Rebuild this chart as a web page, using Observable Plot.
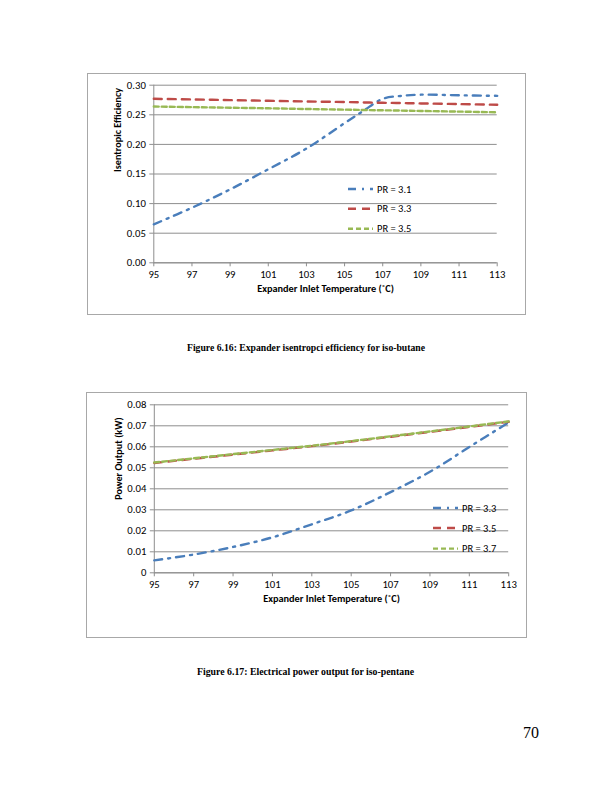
<!DOCTYPE html>
<html>
<head>
<meta charset="utf-8">
<script src="https://cdn.jsdelivr.net/npm/d3@7"></script>
<script src="https://cdn.jsdelivr.net/npm/@observablehq/plot@0.6"></script>
<style>
  html, body { margin: 0; padding: 0; background: #fff; }
  #page { position: relative; width: 612px; height: 792px; background: #fff; overflow: hidden; }
  .box { position: absolute; box-sizing: border-box; border: 1px solid #a8a8a8; }
  svg { overflow: visible; }
</style>
</head>
<body>
<div id="page"></div>
<script>
// ---------- DATA ----------
// Figure 6.16 : isentropic efficiency (iso-butane)
const temps1 = [95, 97, 99, 101, 103, 105, 106, 107, 108, 109, 111, 113];
const eff_pr31 = [0.065, 0.093, 0.124, 0.158, 0.193, 0.236, 0.257, 0.277, 0.282, 0.284, 0.283, 0.282];
const eff_pr33 = [0.277, 0.276, 0.2748, 0.2737, 0.2726, 0.2715, 0.2709, 0.2703, 0.2698, 0.2692, 0.2681, 0.267];
const eff_pr35 = [0.264, 0.263, 0.262, 0.261, 0.2598, 0.2587, 0.2581, 0.2576, 0.2571, 0.2565, 0.2554, 0.2543];
const labels1 = ["PR = 3.1", "PR = 3.3", "PR = 3.5"];
const yTicks1 = [0, 0.05, 0.10, 0.15, 0.20, 0.25, 0.30];

// Figure 6.17 : electrical power output (iso-pentane)
const temps2 = [95, 97, 99, 101, 103, 105, 107, 109, 111, 113];
const pow_pr33 = [0.0059, 0.0087, 0.0123, 0.0169, 0.0231, 0.0297, 0.0384, 0.0481, 0.0599, 0.0716];
const pow_pr35 = [0.0523, 0.0543, 0.0563, 0.0583, 0.0603, 0.0625, 0.0648, 0.0671, 0.0695, 0.0719];
const pow_pr37 = [0.0525, 0.0545, 0.0565, 0.0585, 0.0605, 0.0627, 0.0650, 0.0673, 0.0697, 0.0721];
const labels2 = ["PR = 3.3", "PR = 3.5", "PR = 3.7"];
const yTicks2 = [0, 0.01, 0.02, 0.03, 0.04, 0.05, 0.06, 0.07, 0.08];

const xTicks = [95, 97, 99, 101, 103, 105, 107, 109, 111, 113];
const xTitle = "Expander Inlet Temperature (˚C)";

// series styles
const colors = ["#4a7ebb", "#be4b48", "#98b954"];
const dashes = ["8,6,2,6", "8,6", "5,3"];

const FONT = "Carlito, Lato, sans-serif";
const GRID = "#8e8e8e";

const page = document.getElementById("page");

function place(el, left, top) {
  el.style.position = "absolute";
  el.style.left = left + "px";
  el.style.top = top + "px";
  page.appendChild(el);
}

function box(left, top, w, h) {
  const d = document.createElement("div");
  d.className = "box";
  d.style.left = left + "px"; d.style.top = top + "px";
  d.style.width = w + "px"; d.style.height = h + "px";
  page.appendChild(d);
}

function chart(o) {
  const rows = [];
  o.series.forEach((vals, i) => vals.forEach((v, j) => rows.push({t: o.temps[j], v, s: i})));
  const lineMarks = o.series.map((_, i) =>
    Plot.line(rows.filter(r => r.s === i), {
      x: "t", y: "v", stroke: colors[i], strokeWidth: 2.4,
      strokeDasharray: dashes[i], curve: "catmull-rom"
    }));
  return Plot.plot({
    width: o.width, height: o.height,
    marginLeft: o.ml, marginRight: o.mr, marginTop: o.mt, marginBottom: o.mb,
    style: {fontFamily: FONT, fontSize: "10.7px", color: "#000", background: "transparent", overflow: "visible"},
    x: {domain: [95, 113]},
    y: {domain: o.yDomain},
    marks: [
      Plot.gridY(o.yTicks, {stroke: GRID, strokeOpacity: 1, strokeWidth: 1}),
      Plot.ruleX([95], {stroke: GRID, strokeWidth: 1}),
      Plot.ruleY([0], {stroke: GRID, strokeWidth: 1}),
      Plot.axisX({ticks: xTicks, tickSize: 4, tickPadding: 4, stroke: GRID, fill: "#000", label: null, tickFormat: d => String(d)}),
      Plot.axisY({ticks: o.yTicks, tickSize: 4, tickPadding: 4, stroke: GRID, fill: "#000", label: null, tickFormat: o.fmt}),
      ...lineMarks,
      Plot.text([xTitle], {frameAnchor: "bottom", dy: 29, fontWeight: "bold", fontSize: 10.3, fill: "#000"}),
      Plot.text([o.yTitle], {frameAnchor: "left", rotate: -90, dx: -36, dy: o.yTitleDy, fontWeight: "bold", fontSize: 10.2, fill: "#000"})
    ]
  });
}

function legend(labels, left, tops) {
  const ns = "http://www.w3.org/2000/svg";
  const svg = document.createElementNS(ns, "svg");
  svg.setAttribute("width", 70); svg.setAttribute("height", 60);
  const y0 = tops[0] - 6;
  labels.forEach((lab, i) => {
    const y = tops[i] - y0;
    const l = document.createElementNS(ns, "line");
    l.setAttribute("x1", 0); l.setAttribute("x2", 25);
    l.setAttribute("y1", y); l.setAttribute("y2", y);
    l.setAttribute("stroke", colors[i]); l.setAttribute("stroke-width", 2.4);
    l.setAttribute("stroke-dasharray", dashes[i]);
    svg.appendChild(l);
    const t = document.createElementNS(ns, "text");
    t.setAttribute("x", 29); t.setAttribute("y", y + 3.7);
    t.setAttribute("font-family", FONT); t.setAttribute("font-size", 10.5);
    t.textContent = lab;
    svg.appendChild(t);
  });
  place(svg, left, y0);
}

function caption(text, cx, cy, w) {
  const ns = "http://www.w3.org/2000/svg";
  const svg = document.createElementNS(ns, "svg");
  svg.setAttribute("width", w + 10); svg.setAttribute("height", 16);
  const t = document.createElementNS(ns, "text");
  t.setAttribute("x", 5); t.setAttribute("y", 11.5);
  t.setAttribute("font-family", "Liberation Serif, DejaVu Serif, serif");
  t.setAttribute("font-weight", "bold");
  t.setAttribute("font-size", 10.5);
  t.setAttribute("textLength", w);
  t.setAttribute("lengthAdjust", "spacingAndGlyphs");
  t.textContent = text;
  svg.appendChild(t);
  place(svg, cx - w / 2 - 5, cy - 8);
}

// ---------- Chart 1 ----------
box(86.5, 72.5, 439.5, 242);
const c1 = chart({
  width: 438, height: 241, ml: 66.3, mr: 28.3, mt: 11.7, mb: 51.7,
  temps: temps1, series: [eff_pr31, eff_pr33, eff_pr35],
  yDomain: [0, 0.30], yTicks: yTicks1, fmt: d => d.toFixed(2),
  yTitle: "Isentropic Efficiency", yTitleDy: -2
});
place(c1, 87, 73);
legend(labels1, 348, [189, 208.7, 228.7]);
caption("Figure 6.16: Expander isentropci efficiency for iso-butane", 306, 346.7, 238);

// ---------- Chart 2 ----------
box(86, 391.5, 440.5, 246);
const c2 = chart({
  width: 440, height: 245, ml: 66.8, mr: 18.8, mt: 12.3, mb: 64.7,
  temps: temps2, series: [pow_pr33, pow_pr35, pow_pr37],
  yDomain: [0, 0.08], yTicks: yTicks2, fmt: d => d === 0 ? "0" : d.toFixed(2),
  yTitle: "Power Output (kW)", yTitleDy: 11
});
place(c2, 86.5, 392);
legend(labels2, 433, [507.7, 527.7, 548.3]);
caption("Figure 6.17: Electrical power output for iso-pentane", 305.5, 670.7, 217);

// page number
const pn = document.createElement("div");
pn.textContent = "70";
pn.style.fontFamily = "Liberation Serif, serif";
pn.style.fontSize = "16px";
pn.style.lineHeight = "16px";
place(pn, 523, 725);
</script>
</body>
</html>
